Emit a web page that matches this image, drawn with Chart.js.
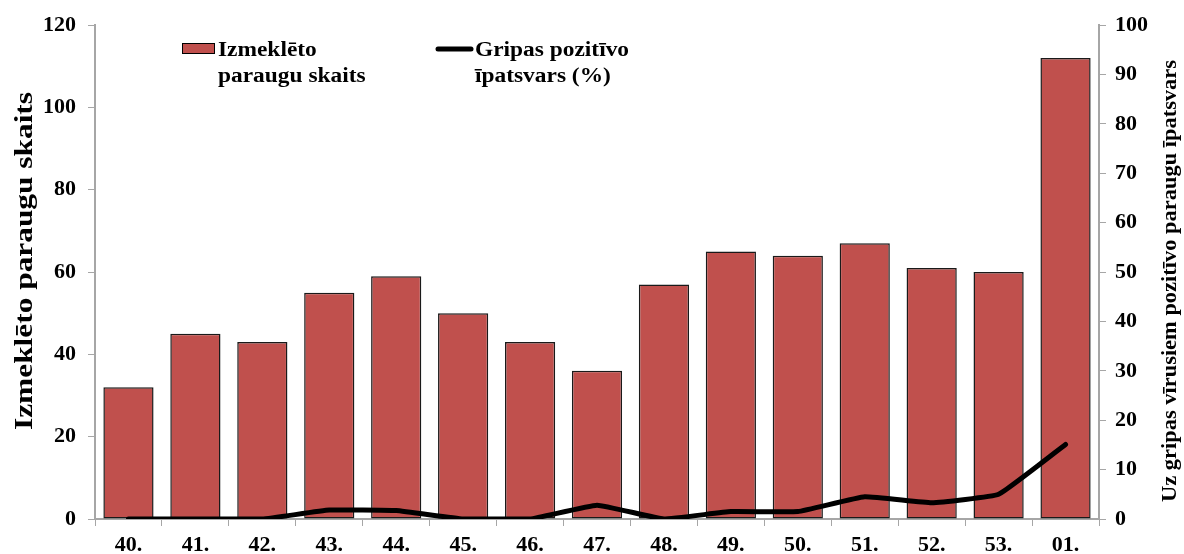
<!DOCTYPE html>
<html>
<head>
<meta charset="utf-8">
<script src="https://cdn.jsdelivr.net/npm/chart.js@4"></script>
<style>
  html, body { margin: 0; padding: 0; background: #fff; }
  #wrap { width: 1184px; height: 554px; }
</style>
</head>
<body>
<div id="wrap"><canvas id="myChart" width="1184" height="554"></canvas></div>
<script>
// week numbers on the x axis
const weeks = ["40.", "41.", "42.", "43.", "44.", "45.", "46.", "47.", "48.", "49.", "50.", "51.", "52.", "53.", "01."];
// number of tested samples (left axis)
const samples = [32, 45, 43, 55, 59, 50, 43, 36, 57, 65, 64, 67, 61, 60, 112];
// share of influenza positive samples, % (right axis)
const positive = [0, 0, 0, 1.8, 1.7, 0, 0, 2.8, 0, 1.5, 1.5, 4.5, 3.3, 5.0, 15.1];

const leftTicks = [0, 20, 40, 60, 80, 100, 120];
const rightTicks = [0, 10, 20, 30, 40, 50, 60, 70, 80, 90, 100];

const FONT = "'Liberation Serif', 'Times New Roman', serif";
const BAR_COLOR = "#C0504D";
const AXIS_COLOR = "#a6a6a6";

// text that is a bit wider than the font gives, like in the original
function wideText(ctx, text, x, y, stretch) {
  ctx.save();
  ctx.translate(x, y);
  ctx.scale(stretch, 1);
  ctx.fillText(text, 0, 0);
  ctx.restore();
}

// rotated axis title, reads bottom to top, stretched to the given length
function drawTitle(ctx, text, x, y, size, length) {
  ctx.save();
  ctx.fillStyle = "#000";
  ctx.textAlign = "center";
  ctx.textBaseline = "middle";
  ctx.font = "bold " + size + "px " + FONT;
  const w = ctx.measureText(text).width;
  ctx.translate(x, y);
  ctx.rotate(-Math.PI / 2);
  ctx.scale(length / w, 1);
  ctx.fillText(text, 0, 0);
  ctx.restore();
}

// draws the two-line legend and both axis titles
const extras = {
  id: "extras",
  afterDraw(chart) {
    const ctx = chart.ctx;
    const area = chart.chartArea;
    ctx.save();
    ctx.fillStyle = "#000";
    ctx.textBaseline = "alphabetic";
    ctx.textAlign = "left";
    ctx.font = "bold 20px " + FONT;

    // legend: bars
    const lx = area.left + 87;
    ctx.fillStyle = BAR_COLOR;
    ctx.fillRect(lx, 43, 33, 11);
    ctx.strokeStyle = "#000";
    ctx.lineWidth = 1;
    ctx.strokeRect(lx + 0.5, 43.5, 32, 10);
    ctx.fillStyle = "#000";
    wideText(ctx, "Izmeklēto", lx + 36, 56, 1.17);
    wideText(ctx, "paraugu skaits", lx + 36, 82, 1.17);

    // legend: line
    const lx2 = area.left + 343;
    ctx.beginPath();
    ctx.lineWidth = 5;
    ctx.lineCap = "round";
    ctx.moveTo(lx2, 49);
    ctx.lineTo(lx2 + 33, 49);
    ctx.stroke();
    wideText(ctx, "Gripas pozitīvo", lx2 + 37, 56, 1.17);
    wideText(ctx, "īpatsvars (%)", lx2 + 37, 82, 1.17);
    ctx.restore();

    drawTitle(ctx, "Izmeklēto paraugu skaits", 25, 261, 26, 338);
    drawTitle(ctx, "Uz gripas vīrusiem pozitīvo paraugu īpatsvars", 1171, 281, 21, 442);
  }
};

function makeChart() {
  const ctx = document.getElementById("myChart");

  new Chart(ctx, {
    type: "bar",
    data: {
      labels: weeks,
      datasets: [
        {
          type: "line",
          label: "Gripas pozitīvo īpatsvars (%)",
          data: positive,
          yAxisID: "y1",
          borderColor: "#000",
          borderWidth: 5,
          borderCapStyle: "round",
          borderJoinStyle: "round",
          pointRadius: 0,
          tension: 0.1,
          fill: false,
          order: 0
        },
        {
          type: "bar",
          label: "Izmeklēto paraugu skaits",
          data: samples,
          yAxisID: "y",
          backgroundColor: BAR_COLOR,
          borderColor: "#1a1a1a",
          borderWidth: 1.5,
          borderSkipped: false,
          categoryPercentage: 0.75,
          barPercentage: 1,
          order: 1
        }
      ]
    },
    options: {
      responsive: false,
      animation: false,
      layout: { padding: { top: 24, left: 0, right: 0, bottom: 0 } },
      plugins: {
        legend: { display: false },
        tooltip: { enabled: false }
      },
      scales: {
        x: {
          grid: {
            offset: true,
            drawOnChartArea: false,
            drawTicks: true,
            tickLength: 7,
            color: AXIS_COLOR
          },
          border: { color: AXIS_COLOR, width: 2 },
          ticks: {
            color: "#000",
            font: { family: FONT, size: 22, weight: "bold" },
            padding: 6,
            maxRotation: 0
          },
          afterFit: (scale) => { scale.height = 35; }
        },
        y: {
          position: "left",
          min: 0,
          max: 120,
          afterBuildTicks: (scale) => { scale.ticks = leftTicks.map((v) => ({ value: v })); },
          grid: {
            drawOnChartArea: false,
            drawTicks: true,
            tickLength: 7,
            color: AXIS_COLOR
          },
          border: { color: AXIS_COLOR, width: 2 },
          ticks: {
            color: "#000",
            font: { family: FONT, size: 22, weight: "bold" },
            padding: 12
          },
          afterFit: (scale) => { scale.width = 95; }
        },
        y1: {
          position: "right",
          min: 0,
          max: 100,
          afterBuildTicks: (scale) => { scale.ticks = rightTicks.map((v) => ({ value: v })); },
          grid: {
            drawOnChartArea: false,
            drawTicks: true,
            tickLength: 7,
            color: AXIS_COLOR
          },
          border: { color: AXIS_COLOR, width: 2 },
          ticks: {
            color: "#000",
            font: { family: FONT, size: 22, weight: "bold" },
            padding: 9
          },
          afterFit: (scale) => { scale.width = 85; }
        }
      }
    },
    plugins: [extras]
  });
}

makeChart();
</script>
</body>
</html>
